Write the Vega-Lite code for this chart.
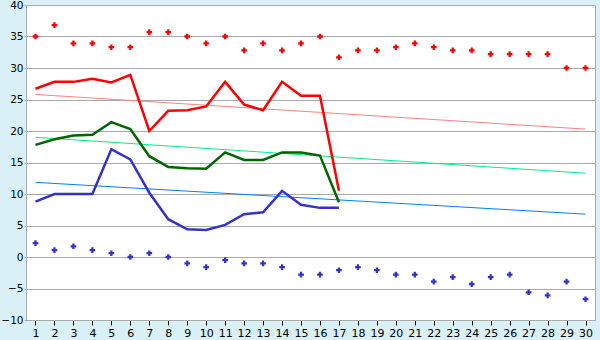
{
  "$schema": "https://vega.github.io/schema/vega-lite/v6.json",
  "width": 569,
  "height": 315,
  "autosize": {"type": "none"},
  "padding": {"left": 26, "top": 5, "right": 5, "bottom": 20},
  "background": "#daf0f7",
  "view": {"fill": "white", "stroke": "#aaaaaa", "strokeWidth": 1},
  "config": {
    "axis": {"labelFont": "DejaVu Sans", "labelFontSize": 11, "labelColor": "#000000", "domainColor": "#aaaaaa", "gridColor": "#aaaaaa", "gridOpacity": 1, "title": null, "labelOverlap": false}
  },
  "datasets": {
    "daily": [
      {"day": 1, "s": "max", "v": 26.7}, {"day": 2, "s": "max", "v": 27.8}, {"day": 3, "s": "max", "v": 27.8}, {"day": 4, "s": "max", "v": 28.3},
      {"day": 5, "s": "max", "v": 27.7}, {"day": 6, "s": "max", "v": 28.9}, {"day": 7, "s": "max", "v": 20.0}, {"day": 8, "s": "max", "v": 23.2},
      {"day": 9, "s": "max", "v": 23.3}, {"day": 10, "s": "max", "v": 23.9}, {"day": 11, "s": "max", "v": 27.8}, {"day": 12, "s": "max", "v": 24.2},
      {"day": 13, "s": "max", "v": 23.3}, {"day": 14, "s": "max", "v": 27.8}, {"day": 15, "s": "max", "v": 25.6}, {"day": 16, "s": "max", "v": 25.6},
      {"day": 17, "s": "max", "v": 10.5},
      {"day": 1, "s": "mean", "v": 17.8}, {"day": 2, "s": "mean", "v": 18.7}, {"day": 3, "s": "mean", "v": 19.3}, {"day": 4, "s": "mean", "v": 19.4},
      {"day": 5, "s": "mean", "v": 21.4}, {"day": 6, "s": "mean", "v": 20.3}, {"day": 7, "s": "mean", "v": 16.0}, {"day": 8, "s": "mean", "v": 14.3},
      {"day": 9, "s": "mean", "v": 14.1}, {"day": 10, "s": "mean", "v": 14.0}, {"day": 11, "s": "mean", "v": 16.6}, {"day": 12, "s": "mean", "v": 15.4},
      {"day": 13, "s": "mean", "v": 15.4}, {"day": 14, "s": "mean", "v": 16.6}, {"day": 15, "s": "mean", "v": 16.6}, {"day": 16, "s": "mean", "v": 16.1},
      {"day": 17, "s": "mean", "v": 8.7},
      {"day": 1, "s": "min", "v": 8.8}, {"day": 2, "s": "min", "v": 10.0}, {"day": 3, "s": "min", "v": 10.0}, {"day": 4, "s": "min", "v": 10.0},
      {"day": 5, "s": "min", "v": 17.1}, {"day": 6, "s": "min", "v": 15.5}, {"day": 7, "s": "min", "v": 10.2}, {"day": 8, "s": "min", "v": 6.0},
      {"day": 9, "s": "min", "v": 4.4}, {"day": 10, "s": "min", "v": 4.3}, {"day": 11, "s": "min", "v": 5.1}, {"day": 12, "s": "min", "v": 6.8},
      {"day": 13, "s": "min", "v": 7.1}, {"day": 14, "s": "min", "v": 10.5}, {"day": 15, "s": "min", "v": 8.3}, {"day": 16, "s": "min", "v": 7.8},
      {"day": 17, "s": "min", "v": 7.8}
    ],
    "records": [
      {"day": 1, "s": "hi", "v": 35.0}, {"day": 2, "s": "hi", "v": 36.8}, {"day": 3, "s": "hi", "v": 33.9}, {"day": 4, "s": "hi", "v": 33.9},
      {"day": 5, "s": "hi", "v": 33.3}, {"day": 6, "s": "hi", "v": 33.3}, {"day": 7, "s": "hi", "v": 35.7}, {"day": 8, "s": "hi", "v": 35.7},
      {"day": 9, "s": "hi", "v": 35.0}, {"day": 10, "s": "hi", "v": 33.9}, {"day": 11, "s": "hi", "v": 35.0}, {"day": 12, "s": "hi", "v": 32.8},
      {"day": 13, "s": "hi", "v": 33.9}, {"day": 14, "s": "hi", "v": 32.8}, {"day": 15, "s": "hi", "v": 33.9}, {"day": 16, "s": "hi", "v": 35.0},
      {"day": 17, "s": "hi", "v": 31.7}, {"day": 18, "s": "hi", "v": 32.8}, {"day": 19, "s": "hi", "v": 32.8}, {"day": 20, "s": "hi", "v": 33.3},
      {"day": 21, "s": "hi", "v": 33.9}, {"day": 22, "s": "hi", "v": 33.3}, {"day": 23, "s": "hi", "v": 32.8}, {"day": 24, "s": "hi", "v": 32.8},
      {"day": 25, "s": "hi", "v": 32.2}, {"day": 26, "s": "hi", "v": 32.2}, {"day": 27, "s": "hi", "v": 32.2}, {"day": 28, "s": "hi", "v": 32.2},
      {"day": 29, "s": "hi", "v": 30.0}, {"day": 30, "s": "hi", "v": 30.0},
      {"day": 1, "s": "lo", "v": 2.2}, {"day": 2, "s": "lo", "v": 1.1}, {"day": 3, "s": "lo", "v": 1.7}, {"day": 4, "s": "lo", "v": 1.1},
      {"day": 5, "s": "lo", "v": 0.6}, {"day": 6, "s": "lo", "v": 0.0}, {"day": 7, "s": "lo", "v": 0.6}, {"day": 8, "s": "lo", "v": 0.0},
      {"day": 9, "s": "lo", "v": -1.0}, {"day": 10, "s": "lo", "v": -1.6}, {"day": 11, "s": "lo", "v": -0.5}, {"day": 12, "s": "lo", "v": -1.0},
      {"day": 13, "s": "lo", "v": -1.0}, {"day": 14, "s": "lo", "v": -1.6}, {"day": 15, "s": "lo", "v": -2.8}, {"day": 16, "s": "lo", "v": -2.8},
      {"day": 17, "s": "lo", "v": -2.1}, {"day": 18, "s": "lo", "v": -1.6}, {"day": 19, "s": "lo", "v": -2.1}, {"day": 20, "s": "lo", "v": -2.8},
      {"day": 21, "s": "lo", "v": -2.8}, {"day": 22, "s": "lo", "v": -3.9}, {"day": 23, "s": "lo", "v": -3.2}, {"day": 24, "s": "lo", "v": -4.3},
      {"day": 25, "s": "lo", "v": -3.2}, {"day": 26, "s": "lo", "v": -2.8}, {"day": 27, "s": "lo", "v": -5.6}, {"day": 28, "s": "lo", "v": -6.1},
      {"day": 29, "s": "lo", "v": -3.9}, {"day": 30, "s": "lo", "v": -6.7}
    ],
    "trend": [
      {"day": 1, "s": "tmax", "v": 25.8}, {"day": 30, "s": "tmax", "v": 20.3},
      {"day": 1, "s": "tmean", "v": 19.0}, {"day": 30, "s": "tmean", "v": 13.3},
      {"day": 1, "s": "tmin", "v": 11.85}, {"day": 30, "s": "tmin", "v": 6.8}
    ]
  },
  "encoding": {
    "x": {
      "field": "day", "type": "quantitative",
      "scale": {"domain": [0.5, 30.5], "nice": false, "zero": false},
      "axis": {"values": [1,2,3,4,5,6,7,8,9,10,11,12,13,14,15,16,17,18,19,20,21,22,23,24,25,26,27,28,29,30], "grid": false, "tickColor": "#000000", "tickSize": 5, "labelPadding": 2, "format": "d"}
    },
    "y": {
      "field": "v", "type": "quantitative",
      "scale": {"domain": [-10, 40], "nice": false, "zero": false},
      "axis": {"values": [-10,-5,0,5,10,15,20,25,30,35,40], "tickCount": 11, "tickColor": "#aaaaaa", "tickSize": 2, "labelPadding": 1, "labelFontSize": 10.5}
    },
    "color": {
      "field": "s", "type": "nominal", "legend": null,
      "scale": {"domain": ["max", "mean", "min", "tmax", "tmean", "tmin", "hi", "lo"],
                "range": ["#ff0000", "#006600", "#3333cc", "#ff8080", "#00f080", "#0080ff", "#ff0000", "#3333cc"]}
    }
  },
  "layer": [
    {
      "data": {"name": "trend"},
      "mark": {"type": "line", "strokeWidth": 1}
    },
    {
      "data": {"name": "daily"},
      "mark": {"type": "line", "strokeWidth": 2.5}
    },
    {
      "data": {"name": "records"},
      "mark": {"type": "point", "shape": "cross", "filled": true, "size": 32, "opacity": 1}
    }
  ]
}
